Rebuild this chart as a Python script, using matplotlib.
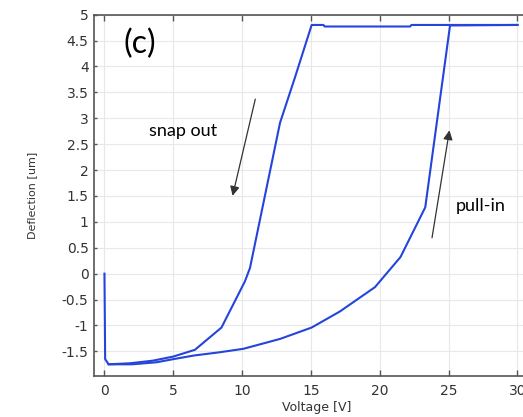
import matplotlib.pyplot as plt

# pull-in sweep (voltage up)
v_up = [0.0, 0.05, 0.3, 2.0, 3.8, 5.0, 6.5, 8.3, 10.1, 12.75, 15.05, 17.1, 19.65, 21.5, 23.3, 25.1, 30.0]
d_up = [0.0, -1.65, -1.75, -1.75, -1.71, -1.65, -1.58, -1.52, -1.45, -1.26, -1.04, -0.73, -0.26, 0.32, 1.28, 4.79, 4.80]

# snap out sweep (voltage down)
v_dn = [30.0, 22.3, 22.2, 16.0, 15.9, 15.05, 13.84, 12.75, 10.57, 10.2, 8.5, 6.57, 5.0, 3.5, 1.85, 0.3]
d_dn = [4.80, 4.80, 4.77, 4.77, 4.80, 4.80, 3.79, 2.91, 0.11, -0.15, -1.04, -1.47, -1.60, -1.68, -1.73, -1.75]

xticks = [0, 5, 10, 15, 20, 25, 30]
yticks = [-1.5, -1, -0.5, 0, 0.5, 1, 1.5, 2, 2.5, 3, 3.5, 4, 4.5, 5]

fig = plt.figure(figsize=(5.23, 4.17), dpi=100)
ax = fig.add_axes([0.18, 0.099, 0.82, 0.866])

blue = '#2444dc'
ax.plot(v_up, d_up, color=blue, lw=1.5)
ax.plot(v_dn, d_dn, color=blue, lw=1.5)

ax.set_xlim(-0.75, 30.4)
ax.set_ylim(-1.97, 5)
ax.set_xticks(xticks)
ax.set_xticklabels([str(t) for t in xticks])
ax.set_yticks(yticks)
ax.set_yticklabels(['%g' % t for t in yticks])
ax.grid(True, color='#e8e8e8', lw=0.8)
ax.set_axisbelow(True)

ax.tick_params(axis='x', direction='in', top=True, length=4, width=1, color='#555555',
               labelsize=10, labelcolor='#333333', pad=6)
ax.tick_params(axis='y', direction='in', length=2, width=1, color='#555555',
               labelsize=10, labelcolor='#333333', pad=4)
for s in ['left', 'bottom', 'top']:
    ax.spines[s].set_color('#555555')
    ax.spines[s].set_linewidth(1.2)
ax.spines['right'].set_visible(False)

ax.set_xlabel('Voltage [V]', fontsize=9, color='#333333', va='center')
ax.set_ylabel('Deflection [um]', fontsize=8, color='#333333', va='center')
ax.yaxis.set_label_coords(-0.145, 0.5)
ax.xaxis.set_label_coords(0.52, -0.087)

ax.text(2.6, 4.43, '(c)', fontsize=23, ha='center', va='center', family='Lato')
ax.text(5.74, 2.75, 'snap out', fontsize=13, ha='center', va='center', family='Lato')
ax.text(27.3, 1.3, 'pull-in', fontsize=13, ha='center', va='center', family='Lato')

ax.annotate('', xy=(9.26, 1.45), xytext=(11.0, 3.42),
            arrowprops=dict(arrowstyle='-|>', color='#333333', lw=0.9, mutation_scale=14))
ax.annotate('', xy=(25.09, 2.82), xytext=(23.76, 0.64),
            arrowprops=dict(arrowstyle='-|>', color='#333333', lw=0.9, mutation_scale=14))

fig.savefig('out.png', dpi=100)
